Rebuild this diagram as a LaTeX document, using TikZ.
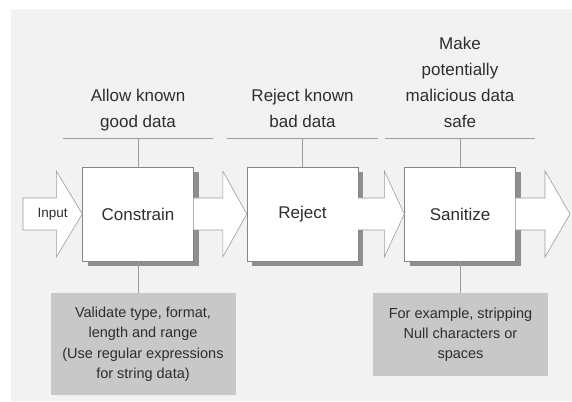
\documentclass[tikz,border=0pt]{standalone}
\usepackage{fontspec}
\setmainfont{Liberation Sans}
\usepackage{tikz}
\usetikzlibrary{positioning, calc, shadows}
\definecolor{bggray}{HTML}{F2F2F2}
\definecolor{linegray}{HTML}{9C9C9C}
\definecolor{boxline}{HTML}{858585}
\definecolor{shadegray}{HTML}{8E8E8E}
\definecolor{notegray}{HTML}{C8C8C8}
\definecolor{textgray}{HTML}{2E2E2E}
\tikzstyle{stepbox} = [rectangle,
minimum width=111pt,
minimum height=94pt,
text centered,
draw=boxline,
fill=white,
text=textgray,
font=\fontsize{17}{20}\selectfont,
drop shadow={shadow xshift=5pt, shadow yshift=-5pt, fill=shadegray, opacity=1}]
\tikzstyle{headlabel} = [minimum width=150pt,
align=center,
inner xsep=0pt,
inner ysep=11pt,
text depth=0pt,
text=textgray,
font=\fontsize{17}{26}\selectfont]
\tikzstyle{notebox} = [rectangle,
align=center,
fill=notegray,
text=textgray,
font=\fontsize{14.5}{20.3}\selectfont]
\tikzstyle{fatarrow} = [draw=linegray, fill=white, line width=0.6pt]
\tikzstyle{tie} = [draw=linegray, line width=0.8pt]

% hollow block arrow from #1 to the tip #2, head #3 long
\newcommand{\bigarrow}[3]{%
\filldraw[fatarrow] ($(#1)+(0,16)$) -- ($(#2)+(-#3,16)$) -- ($(#2)+(-#3,43)$)
  -- (#2) -- ($(#2)+(-#3,-43)$) -- ($(#2)+(-#3,-16)$) -- ($(#1)+(0,-16)$);}

\begin{document}
\begin{tikzpicture}[x=1pt, y=1pt]
\useasboundingbox (0,0) rectangle (572,401);
\fill[bggray] (11,0) rectangle (572,392);

% the three steps
\node (constrain) [stepbox] at (138,187) {Constrain};
\node (reject) [stepbox] at (302.5,187) {Reject};
\node (sanitize) [stepbox] at (460,187) {Sanitize};
\coordinate (in) at (23,187);
\coordinate (out) at (570,187);

% block arrows
\filldraw[fatarrow] ($(in)+(0,16)$) -- ($(constrain.west)+(-26,16)$) -- ($(constrain.west)+(-26,43)$)
  -- (constrain.west) -- ($(constrain.west)+(-26,-43)$) -- ($(constrain.west)+(-26,-16)$)
  -- ($(in)+(0,-16)$) -- cycle;
\node (inputlbl) [text=textgray, font=\fontsize{13.5}{16}\selectfont] at ($(in)!0.5!(constrain.west)$) {Input};
\bigarrow{constrain.east}{reject.west}{24}
\bigarrow{reject.east}{sanitize.west}{20}
\bigarrow{sanitize.east}{out}{25}

% what each step does
\node (allow) [headlabel, above=28pt of constrain] {Allow known\\good data};
\node (bad) [headlabel, above=28pt of reject] {Reject known\\bad data};
\node (safe) [headlabel, above=28pt of sanitize] {Make\\potentially\\malicious data\\safe};
\draw [tie] (allow.south west) -- (allow.south east);
\draw [tie] (bad.south west) -- (bad.south east);
\draw [tie] (safe.south west) -- (safe.south east);
\draw [tie] (allow.south) -- (constrain.north);
\draw [tie] (bad.south) -- (reject.north);
\draw [tie] (safe.south) -- (sanitize.north);

% notes below
\node (valnote) [notebox, minimum width=185pt, minimum height=102pt, below=32pt of constrain, xshift=5pt]
  {Validate type, format,\\length and range\\(Use regular expressions\\for string data)};
\node (stripnote) [notebox, minimum width=175pt, minimum height=83pt, below=32pt of sanitize, xshift=0.5pt]
  {For example, stripping\\Null characters or\\spaces};
\draw [tie] (constrain.south) -- (constrain.south |- valnote.north);
\draw [tie] (sanitize.south) -- (sanitize.south |- stripnote.north);
\end{tikzpicture}
\end{document}
